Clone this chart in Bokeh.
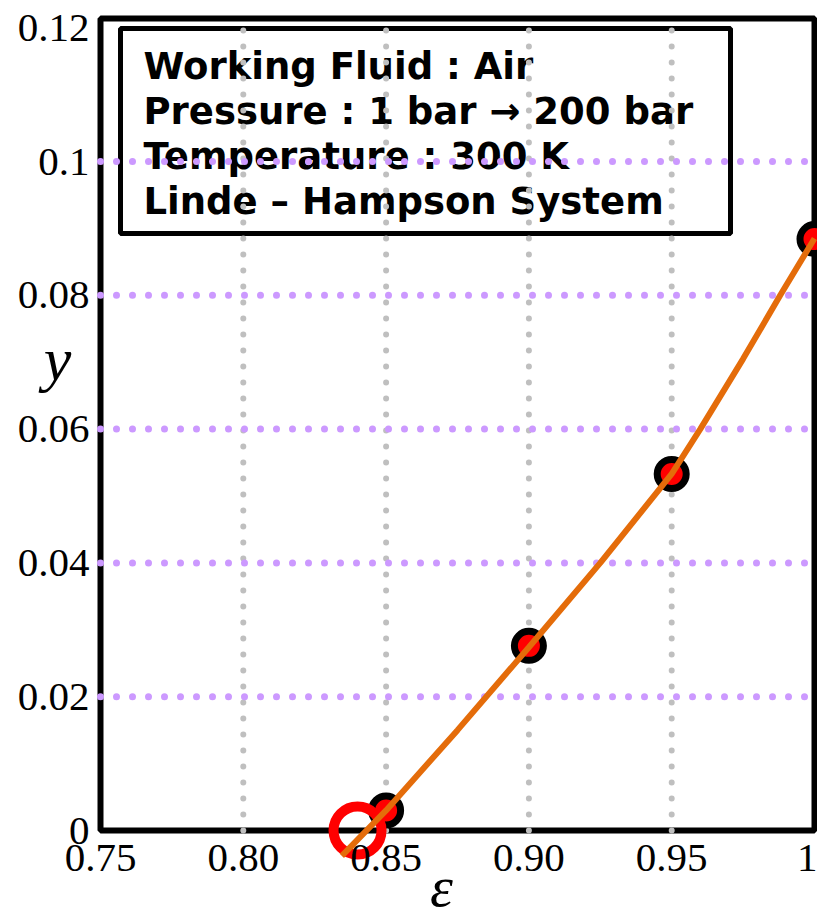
from bokeh.plotting import figure
from bokeh.models import Range1d, FixedTicker, Label, BoxAnnotation
from bokeh.embed import file_html
from bokeh.resources import INLINE

# ---------------- data ----------------
eps_ticks = [0.75, 0.80, 0.85, 0.90, 0.95, 1.0]
eps_tick_labels = ["0.75", "0.80", "0.85", "0.90", "0.95", "1"]
y_ticks = [0.0, 0.02, 0.04, 0.06, 0.08, 0.10, 0.12]
y_tick_labels = ["0", "0.02", "0.04", "0.06", "0.08", "0.1", "0.12"]

eps_points = [0.85, 0.90, 0.95, 1.00]
y_points = [0.0030, 0.0276, 0.0533, 0.0884]

eps_curve = [0.8345, 0.85, 0.875, 0.90, 0.925, 0.95, 0.96, 0.975, 0.988, 1.0]
y_curve = [-0.0038, 0.0030, 0.0150, 0.0274, 0.0400, 0.0533, 0.0600, 0.0705, 0.0800, 0.0885]

eps_onset = [0.840]
y_onset = [0.0]

info_lines = [
    "Working Fluid : Air",
    "Pressure : 1 bar \u2192 200 bar",
    "Temperature : 300 K",
    "Linde \u2013 Hampson System",
]
x_label = "\u03b5"
y_label = "y"

# ---------------- layout (pixels -> data conversion) ----------------
W, H = 817, 921
AX_LEFT_PX, AX_RIGHT_PX = 100, 814      # pixel positions of eps=0.75 and eps=1.0
AX_ZERO_PX, PX_PER_Y = 830, 6690.0       # pixel row of y=0, pixels per unit y
PX_PER_X = (AX_RIGHT_PX - AX_LEFT_PX) / (1.0 - 0.75)


def xd(px):
    return 0.75 + (px - AX_LEFT_PX) / PX_PER_X


def yd(py):
    return (AX_ZERO_PX - py) / PX_PER_Y


X0, X1 = xd(0), xd(W)
Y0, Y1 = yd(H), yd(0)
AX_TOP = yd(18)

p = figure(
    frame_width=W, frame_height=H,
    x_range=Range1d(X0, X1), y_range=Range1d(Y0, Y1),
    output_backend="svg", toolbar_location=None,
    min_border=0, min_border_left=0, min_border_right=0,
    min_border_top=0, min_border_bottom=0,
    background_fill_color="white", border_fill_color="white",
    outline_line_color=None,
)
p.xgrid.visible = False
p.ygrid.visible = False

serif = "Liberation Serif"

# axes (drawn inside the frame at fixed locations)
p.xaxis.ticker = FixedTicker(ticks=eps_ticks)
p.xaxis.major_label_overrides = dict(zip(eps_ticks, eps_tick_labels))
p.xaxis.fixed_location = 0.0
p.yaxis.ticker = FixedTicker(ticks=y_ticks)
p.yaxis.major_label_overrides = dict(zip(y_ticks, y_tick_labels))
p.yaxis.fixed_location = 0.75
for ax in (p.xaxis, p.yaxis):
    ax.axis_line_color = None
    ax.major_tick_line_color = None
    ax.minor_tick_line_color = None
    ax.major_label_text_font = serif
    ax.major_label_text_font_size = "41px"
    ax.major_label_text_color = "black"
p.xaxis.major_label_standoff = 8
p.yaxis.major_label_standoff = 5

# axes box
frame_box = BoxAnnotation(left=0.75, right=1.0, bottom=0.0, top=AX_TOP,
                          fill_alpha=0, line_color="black", line_alpha=1.0,
                          line_width=6, level="underlay")
p.add_layout(frame_box)

# info box
info_box = BoxAnnotation(left=xd(120), right=xd(730), top=yd(28), bottom=yd(233),
                         fill_color="white", fill_alpha=1.0,
                         line_color="black", line_alpha=1.0, line_width=5,
                         level="underlay")
p.add_layout(info_box)
for i, line in enumerate(info_lines):
    p.add_layout(Label(x=xd(143), y=yd(66 + 45 * i), text=line,
                       text_font="DejaVu Sans", text_font_style="bold",
                       text_font_size="37px", text_align="left",
                       text_baseline="alphabetic", text_color="black",
                       level="underlay"))

# dotted grid lines
vx = eps_ticks[1:-1]
p.segment(x0=vx, y0=[0.0] * len(vx), x1=vx, y1=[AX_TOP] * len(vx),
          line_color="#BFBFBF", line_width=6, line_dash="0 16", line_cap="round")
hy = y_ticks[1:-1]
p.segment(x0=[0.75] * len(hy), y0=hy, x1=[1.0] * len(hy), y1=hy,
          line_color="#CC99FF", line_width=7, line_dash="0 16", line_cap="round")

# data points
p.scatter(eps_points, y_points, size=29, fill_color="#FF0000",
          line_color="black", line_width=7)
# onset ring
p.scatter(eps_onset, y_onset, size=48, fill_color=None,
          line_color="#FF0000", line_width=10)
# fitted curve
p.line(eps_curve, y_curve, line_color="#E46C0A", line_width=6)

# axis titles
p.add_layout(Label(x=xd(57), y=yd(358), text=y_label, text_font=serif,
                   text_font_style="italic", text_font_size="62px",
                   text_color="black", text_align="center",
                   text_baseline="alphabetic"))
p.add_layout(Label(x=xd(441), y=yd(886), text=x_label, text_font=serif,
                   text_font_style="italic", text_font_size="58px",
                   text_color="black", text_align="center",
                   text_baseline="alphabetic"))

open("out.html", "w").write(file_html(p, INLINE))
